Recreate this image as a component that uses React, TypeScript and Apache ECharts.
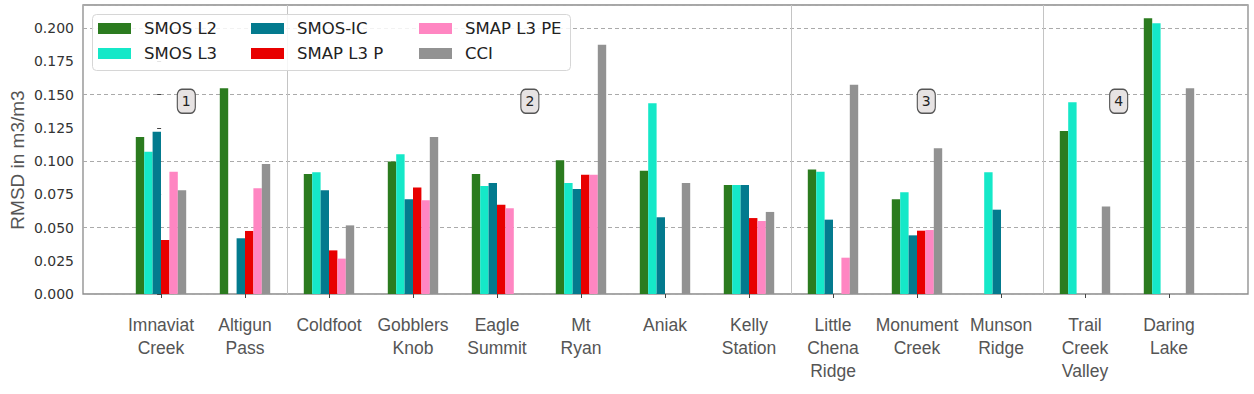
import React, { useEffect, useRef } from "react";
import * as echarts from "echarts";

const sites = [
  "Imnaviat\nCreek", "Altigun\nPass", "Coldfoot", "Gobblers\nKnob", "Eagle\nSummit",
  "Mt\nRyan", "Aniak", "Kelly\nStation", "Little\nChena\nRidge", "Monument\nCreek",
  "Munson\nRidge", "Trail\nCreek\nValley", "Daring\nLake",
];
const seriesNames = ["SMOS L2", "SMOS L3", "SMOS-IC", "SMAP L3 P", "SMAP L3 PE", "CCI"];
const seriesColors = ["#2b7b1f", "#15e8c8", "#037a8e", "#e80000", "#ff86c2", "#929292"];

const smosL2 = [0.118, 0.1547, 0.0902, 0.0997, 0.0902, 0.1005, 0.0927, 0.082, 0.0937, 0.0712, null, 0.1226, 0.2073];
const smosL3 = [0.107, null, 0.0915, 0.105, 0.0812, 0.0835, 0.1434, 0.082, 0.092, 0.0765, 0.0915, 0.1441, 0.2035];
const smosIC = [0.122, 0.0419, 0.078, 0.0712, 0.0835, 0.079, 0.0577, 0.082, 0.0559, 0.0441, 0.0634, null, null];
const smapL3P = [0.0406, 0.0474, 0.0328, 0.08, 0.0672, 0.0897, null, 0.0571, null, 0.0476, null, null, null];
const smapL3PE = [0.092, 0.0795, 0.0266, 0.0704, 0.0644, 0.0897, null, 0.0549, 0.0273, 0.0481, null, null, null];
const cci = [0.078, 0.0977, 0.0516, 0.118, null, 0.1875, 0.0835, 0.0617, 0.1574, 0.1095, null, 0.0657, 0.1547];
const allSeries = [smosL2, smosL3, smosIC, smapL3P, smapL3PE, cci];

// group separators and group annotations (in category units)
const groupBoundaries = [1.5, 7.5, 10.5];
const groupLabels = ["1", "2", "3", "4"];
const groupLabelX = [0.3, 4.39, 9.11, 11.4];
const groupLabelY = 0.145;

const Y_MIN = 0;
const Y_MAX = 0.2173;
const X_MIN = -0.93;
const X_MAX = 12.94;

export default function App() {
  const ref = useRef<HTMLDivElement>(null);
  useEffect(() => {
    if (!ref.current) return;
    const chart = echarts.init(ref.current, undefined, { renderer: "svg" });
    const legendCommon = {
      orient: "vertical",
      top: 20,
      padding: 0,
      itemWidth: 33,
      itemHeight: 11,
      itemGap: 8,
      icon: "rect",
      selectedMode: false,
      z: 6,
      textStyle: {
        fontFamily: "DejaVu Sans",
        fontSize: 16.5,
        color: "#222",
        lineHeight: 16,
        padding: [0, 0, 0, 8],
      },
    };
    chart.setOption({
      animation: false,
      backgroundColor: "#fff",
      grid: [
        { left: 83, right: 6, top: 5, bottom: 100, show: true, borderColor: "#8a8a8a", borderWidth: 1.3, backgroundColor: "transparent" },
        { left: 119, right: 43, top: 5, bottom: 100 },
      ],
      xAxis: [
        {
          type: "value", gridIndex: 0, min: X_MIN, max: X_MAX,
          axisLine: { show: false }, axisTick: { show: false }, axisLabel: { show: false }, splitLine: { show: false },
        },
        {
          type: "category", gridIndex: 1, data: sites,
          axisLine: { show: false },
          axisTick: { show: true, alignWithLabel: true, length: 4, lineStyle: { color: "#444", width: 1 } },
          axisLabel: {
            interval: 0, margin: 19, fontFamily: "Liberation Sans", fontSize: 17.5,
            color: "#555", lineHeight: 23, verticalAlign: "top",
          },
          splitLine: { show: false },
        },
      ],
      yAxis: [
        {
          type: "value", gridIndex: 0, min: Y_MIN, max: Y_MAX, interval: 0.025,
          axisLine: { show: false },
          axisTick: { show: true, length: 4, lineStyle: { color: "#444" } },
          axisLabel: {
            margin: 9, fontFamily: "DejaVu Sans", fontSize: 14, color: "#333", showMaxLabel: false,
            formatter: (v: number) => (v > 0.2001 ? "" : v.toFixed(3)),
          },
          splitLine: { show: false },
        },
        {
          type: "value", gridIndex: 0, min: Y_MIN, max: Y_MAX, interval: 0.05,
          axisLine: { show: false }, axisTick: { show: false }, axisLabel: { show: false },
          splitLine: { show: true, lineStyle: { color: "#aaa", type: [4, 3], width: 1 } },
        },
        {
          type: "value", gridIndex: 1, min: Y_MIN, max: Y_MAX, show: false,
          splitLine: { show: false },
        },
      ],
      legend: [
        { ...legendCommon, left: 98, data: [seriesNames[0], seriesNames[1]] },
        { ...legendCommon, left: 251, data: [seriesNames[2], seriesNames[3]] },
        { ...legendCommon, left: 419, data: [seriesNames[4], seriesNames[5]] },
      ],
      graphic: [
        {
          type: "rect", z: 5, left: 92, top: 14,
          shape: { width: 478, height: 56, r: 4 },
          style: { fill: "rgba(255,255,255,0.85)", stroke: "#d6d6d6", lineWidth: 1 },
        },
        {
          type: "text", z: 5, x: 17, y: 160, rotation: Math.PI / 2,
          style: {
            text: "RMSD in m3/m3", fontFamily: "Liberation Sans", fontSize: 19, fill: "#555",
            align: "center", verticalAlign: "middle",
          },
        },
      ],
      series: [
        ...seriesNames.map((name, i) => ({
          name,
          type: "bar",
          xAxisIndex: 1,
          yAxisIndex: 2,
          data: allSeries[i],
          barGap: "0%",
          barCategoryGap: "40%",
          itemStyle: { color: seriesColors[i] },
          z: 3,
        })),
        {
          name: "groups",
          type: "scatter",
          xAxisIndex: 0,
          yAxisIndex: 0,
          data: groupLabelX.map((x, i) => ({ value: [x, groupLabelY], name: groupLabels[i] })),
          symbol: "roundRect",
          symbolSize: [18, 24],
          itemStyle: { color: "#e7e3e3", borderColor: "#555", borderWidth: 1.3, opacity: 1 },
          label: {
            show: true, position: "inside", formatter: (p: any) => p.name,
            fontFamily: "DejaVu Sans", fontSize: 14, color: "#222",
          },
          z: 4,
          silent: true,
          markLine: {
            silent: true,
            symbol: "none",
            label: { show: false },
            lineStyle: { color: "#c4c4c4", type: "solid", width: 1 },
            data: groupBoundaries.map((b) => ({ xAxis: b })),
            z: 1,
          },
        },
      ],
    });
    return () => chart.dispose();
  }, []);
  return (
    <div
      ref={ref}
      style={{ position: "fixed", left: 0, top: 0, width: 1254, height: 394 }}
    />
  );
}
